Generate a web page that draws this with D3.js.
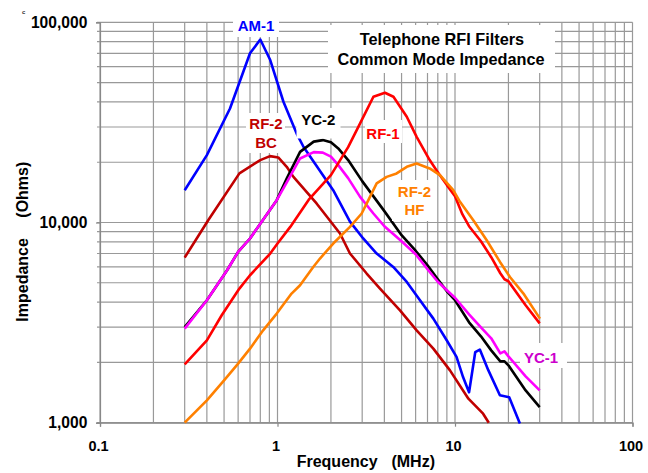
<!DOCTYPE html>
<html><head><meta charset="utf-8">
<script src="https://cdn.jsdelivr.net/npm/d3@7"></script>
<style>
body{margin:0;background:#fff}
svg{display:block}
text{font-family:"Liberation Sans",Arial,Helvetica,sans-serif;font-weight:bold}
</style>
</head><body>
<svg id="c" width="648" height="473"></svg>
<script>
// ---------- data ----------
const xTickValues = [0.1, 1, 10, 100];
const xTickLabels = ["0.1", "1", "10", "100"];
const yTickValues = [1000, 10000, 100000];
const yTickLabels = ["1,000", "10,000", "100,000"];

const am1F = [0.3,0.4,0.54,0.7,0.8,0.91,1.08,1.28,1.4,2.06,2.56,3.04,3.62,4.49,5.35,6.35,7.55,8.98,10.2,11.1,12.0,13.0,13.8,15.4,17.9,20.2,23.2];
const am1Z = [14500,21700,37100,70000,82000,64800,40100,27900,23900,14500,10100,8320,7000,6000,5050,4090,3310,2580,2130,1690,1420,2250,2320,1830,1370,1340,990];

const rf2bcF = [0.3,0.407,0.61,0.8,0.907,1.01,1.127,1.23,1.66,2.25,2.56,3.18,3.78,4.9,6.08,7.55,9.37,11.9,14.4,15.5];
const rf2bcZ = [6680,10270,17600,20500,21450,21130,18970,16900,12450,8810,7000,5560,4677,3641,2894,2344,1826,1318,1109,1000];

const yc2F = [0.3,0.4,0.52,0.6,0.7,0.99,1.13,1.34,1.6,1.8,2,2.2,2.5,3,4,5,6,7,8,9,10,12,14,16,18,19,20,25,30];
const yc2Z = [3000,4090,5775,7130,8320,12930,16660,22540,25350,25800,25200,23440,20500,16090,11400,8640,7230,6115,5205,4535,4090,3173,2700,2298,2025,2025,1934,1450,1197];

const yc1F = [0.3,0.4,0.52,0.6,0.7,0.99,1.13,1.34,1.6,1.8,2,2.2,2.5,2.92,3.47,4,5,6,7,8,9,10,12,14,16,18,19,20,25,30];
const yc1Z = [2950,4090,5775,7130,8320,12930,15900,20890,22470,22340,21330,19350,16660,13430,11090,9580,8065,6943,5842,5058,4586,4207,3479,2996,2640,2220,2272,2145,1704,1450];

const rf1F = [0.3,0.4,0.485,0.61,0.7,0.91,1.0,1.18,1.5,2,2.5,2.92,3.47,4.03,4.5,5.35,6.08,7.2,8,9,10,11,12,14,16,18,19,20,25,30];
const rf1Z = [1956,2580,3440,4677,5452,7000,7860,9506,13000,17240,23790,31260,42460,44460,42460,33730,26790,20500,17840,15370,13540,11000,9580,8065,6707,5579,5205,5087,3859,3136];

const rf2hfF = [0.3,0.4,0.5,0.6,0.7,0.83,0.99,1.2,1.34,1.59,1.735,2.06,2.56,2.98,3.25,3.62,4.12,4.69,5.35,6.08,7.2,8.23,9.78,10.67,12.68,15.09,17.93,20.4,24.3,30.1];
const rf2hfZ = [1000,1293,1627,1972,2344,2894,3508,4416,4860,5998,6607,7852,9506,11090,12930,15670,16900,17580,18970,19720,18620,17240,14500,12680,10270,8155,6353,5346,4416,3311];

const seriesNames = ["AM-1","RF-2 BC","YC-2","YC-1","RF-1","RF-2 HF"];
const seriesColors = ["#0000FF","#C00000","#000000","#FF00FF","#FF0000","#FF8000"];
const seriesF = [am1F, rf2bcF, yc2F, yc1F, rf1F, rf2hfF];
const seriesZ = [am1Z, rf2bcZ, yc2Z, yc1Z, rf1Z, rf2hfZ];

const titleLines = ["Telephone RFI Filters", "Common Mode Impedance"];
const xTitle = ["Frequency", "(MHz)"];
const yTitle = ["Impedance", "(Ohms)"];

// ---------- layout ----------
const L = 100, R = 632.5, T = 22.3, B = 422.7;
const svg = d3.select("#c");
svg.append("rect").attr("width",648).attr("height",473).attr("fill","#fff");

const x = d3.scaleLog().domain([0.1,100]).range([L,R]);
const y = d3.scaleLog().domain([1000,100000]).range([B,T]);

const gridColor = "#999";
const grid = svg.append("g");
x.ticks().forEach(v => {
  grid.append("line").attr("x1",x(v)).attr("x2",x(v)).attr("y1",T).attr("y2",B)
    .attr("stroke",gridColor).attr("stroke-width",1.2);
});
y.ticks().forEach(v => {
  grid.append("line").attr("x1",L-3).attr("x2",R).attr("y1",y(v)).attr("y2",y(v))
    .attr("stroke",gridColor).attr("stroke-width",1.2);
});

// axes
const xAxis = d3.axisBottom(x).tickValues(xTickValues)
  .tickFormat((d,i)=>xTickLabels[i]).tickSize(4).tickPadding(14.5);
const gx = svg.append("g").attr("transform",`translate(0,${B})`).call(xAxis);
gx.select(".domain").attr("stroke","#888").attr("stroke-width",1.2);
gx.selectAll(".tick line").attr("stroke","#888").attr("stroke-width",1.2);
gx.selectAll(".tick text").attr("font-size",14.5).attr("fill","#000").attr("dx",-2)
  .style("font-family",'"Liberation Sans",Arial,sans-serif').style("font-weight","bold");

const yAxis = d3.axisLeft(y).tickValues(yTickValues)
  .tickFormat((d,i)=>yTickLabels[i]).tickSize(4).tickPadding(8.7);
const gy = svg.append("g").attr("transform",`translate(${L},0)`).call(yAxis);
gy.select(".domain").attr("stroke","#888").attr("stroke-width",1.2);
gy.selectAll(".tick line").attr("stroke","#888").attr("stroke-width",1.2);
gy.selectAll(".tick text").attr("font-size",15.6).attr("fill","#000")
  .style("font-family",'"Liberation Sans",Arial,sans-serif').style("font-weight","bold");

// title box
svg.append("rect").attr("x",328).attr("y",25).attr("width",227).attr("height",48).attr("fill","#fff");
svg.append("text").attr("x",442).attr("y",45).attr("text-anchor","middle").attr("font-size",16.3).text(titleLines[0]);
svg.append("text").attr("x",441).attr("y",65).attr("text-anchor","middle").attr("font-size",16.3).text(titleLines[1]);

// series lines
const line = d3.line().x(d=>x(d[0])).y(d=>y(d[1]));
seriesNames.forEach((n,i) => {
  const pts = seriesF[i].map((f,j)=>[f, seriesZ[i][j]]);
  svg.append("path").datum(pts).attr("d",line).attr("fill","none")
    .attr("stroke",seriesColors[i]).attr("stroke-width",2.6)
    .attr("stroke-linejoin","round").attr("stroke-linecap","butt");
});

// series labels with white backgrounds (box: x, y, w, h)
const labels = [
  {lines:["AM-1"], cx:256, y0:30.7, color:"#0000FF", box:[233,15,46,22]},
  {lines:["RF-2","BC"], cx:266, y0:129, color:"#C00000", box:[246,113,39,40]},
  {lines:["YC-2"], cx:318.3, y0:125, color:"#000000", box:[296.5,108,44,30.5]},
  {lines:["RF-1"], cx:383, y0:139.3, color:"#FF0000", box:[365,120,37,23]},
  {lines:["RF-2","HF"], cx:414.5, y0:196.7, color:"#FF8000", box:[392,180,45,41]},
  {lines:["YC-1"], cx:541, y0:362.7, color:"#CC00CC", box:[520,343,47,25]}
];
labels.forEach(lb => {
  const g = svg.append("g");
  g.append("rect").attr("x",lb.box[0]).attr("y",lb.box[1]).attr("width",lb.box[2]).attr("height",lb.box[3]).attr("fill","#fff");
  lb.lines.forEach((t,k) => g.append("text").attr("x",lb.cx).attr("y",lb.y0 + k*18.5)
     .attr("text-anchor","middle").attr("font-size",15).attr("fill",lb.color).text(t));
});

// axis titles
svg.append("text").attr("x",296.7).attr("y",467).attr("font-size",16).text(xTitle[0]);
svg.append("text").attr("x",435).attr("y",467).attr("text-anchor","end").attr("font-size",16).text(xTitle[1]);
svg.append("text").attr("transform","translate(27.5,321.7) rotate(-90)").attr("font-size",16).text(yTitle[0]);
svg.append("text").attr("transform","translate(27.5,161.7) rotate(-90)").attr("text-anchor","end").attr("font-size",16).text(yTitle[1]);

// small stray mark top-left
svg.append("text").attr("x",22).attr("y",14).attr("font-size",6).attr("font-weight","normal").attr("fill","#333").text("c");
</script>
</body></html>
